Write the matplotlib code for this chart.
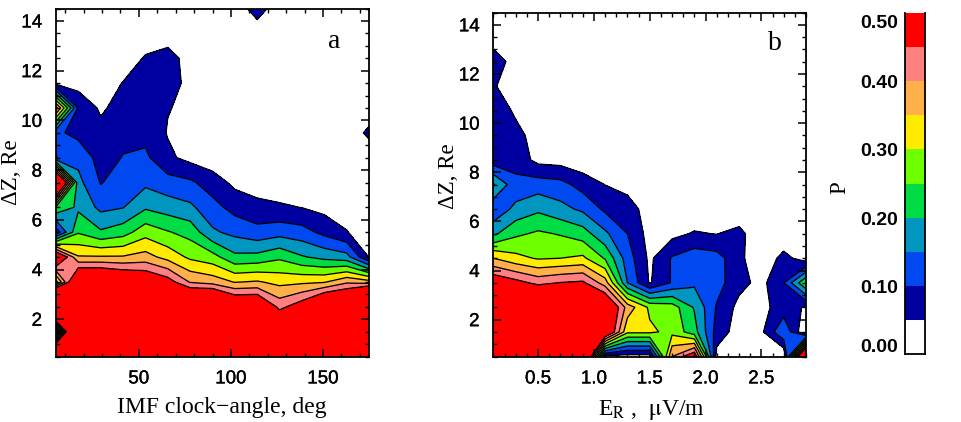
"""
Contour maps of P against IMF clock-angle and E_R, with a discrete colour bar.
"""

import numpy as np
import matplotlib
matplotlib.use("Agg")
import matplotlib.pyplot as plt
import matplotlib.patheffects as pe
from matplotlib.colors import BoundaryNorm, ListedColormap
from matplotlib.ticker import MultipleLocator
from matplotlib.transforms import ScaledTranslation

W, H = 962, 422

# grid of the two maps
dz = [0.5, 1.5, 2.5, 3.5, 4.5, 5.5, 6.5, 7.5, 8.5, 9.5, 10.5, 11.5, 12.5, 13.5, 14.5]
clock_angle = [5, 17.1, 29.3, 41.4, 53.6, 65.7, 77.9, 90, 102.1, 114.3, 126.4, 138.6, 150.7, 162.9, 175]
e_r = [0.1, 0.3, 0.5, 0.7, 0.9, 1.1, 1.3, 1.5, 1.7, 1.9, 2.1, 2.3, 2.5, 2.7, 2.9]

# P per clock-angle column, from dz = 0.5 up to dz = 14.5
p_clock = [
    [.90, .06, 1.0, .28, .55, .07, .24, .70, .098, .11, .42, .03, 0, 0, 0],
    [.90, .90, .90, .575, .355, .245, .19, .165, .135, .085, .09, .03, 0, 0, 0],
    [.90, .90, .90, .575, .355, .207, .137, .097, .08, .065, .042, .02, 0, 0, 0],
    [.90, .90, .90, .54, .355, .228, .148, .125, .102, .088, .07, .052, .02, 0, 0],
    [.90, .90, .90, .517, .37, .28, .193, .139, .11, .085, .075, .065, .055, .02, 0],
    [.90, .90, .90, .477, .332, .254, .176, .12, .06, .047, .052, .062, .06, .037, 0],
    [.90, .90, .63, .395, .29, .232, .16, .109, .035, .03, .041, .042, .04, .01, 0],
    [.90, .90, .65, .378, .27, .158, .118, .075, .02, 0, 0, 0, 0, 0, 0],
    [.90, .90, .545, .347, .212, .136, .082, .038, .01, 0, 0, 0, 0, 0, 0],
    [.90, .90, .545, .355, .216, .117, .065, .025, 0, 0, 0, 0, 0, 0, .09],
    [.90, .56, .434, .335, .24, .13, .057, .02, 0, 0, 0, 0, 0, 0, 0],
    [.90, .70, .486, .34, .205, .12, .049, .015, 0, 0, 0, 0, 0, 0, 0],
    [.90, .80, .59, .345, .185, .086, .035, 0, 0, 0, 0, 0, 0, 0, 0],
    [.90, .80, .61, .39, .169, .054, .01, 0, 0, 0, 0, 0, 0, 0, 0],
    [.90, .90, .87, .37, .048, 0, 0, 0, 0, .067, 0, 0, 0, 0, 0],
]

# P per E_R column, from dz = 0.5 up to dz = 14.5
p_er = [
    [.90, .90, .90, .50, .35, .19, .11, .205, .07, .08, .09, .055, .10, 0, 0],
    [.90, .90, .90, .47, .315, .24, .165, .115, .08, .068, .04, .02, .01, 0, 0],
    [.90, .90, .62, .435, .295, .258, .19, .125, .035, .025, 0, 0, 0, 0, 0],
    [.90, .90, .70, .452, .30, .246, .166, .117, .03, 0, 0, 0, 0, 0, 0],
    [.70, .90, .70, .46, .31, .224, .14, .08, .015, 0, 0, 0, 0, 0, 0],
    [.03, .55, .555, .375, .245, .16, .09, .049, .01, 0, 0, 0, 0, 0, 0],
    [.03, .31, .38, .15, .125, .10, .07, .035, 0, 0, 0, 0, 0, 0, 0],
    [.03, .31, .29, .045, .039, .03, .03, 0, 0, 0, 0, 0, 0, 0, 0],
    [.40, .285, .275, .105, .105, .035, 0, 0, 0, 0, 0, 0, 0, 0, 0],
    [.50, .22, .195, .14, .13, .055, .01, 0, 0, 0, 0, 0, 0, 0, 0],
    [.03, .08, .095, .12, .12, .048, .01, 0, 0, 0, 0, 0, 0, 0, 0],
    [0, .025, .035, .066, .065, .07, 0, 0, 0, 0, 0, 0, 0, 0, 0],
    [0, .04, .037, .035, .005, 0, 0, 0, 0, 0, 0, 0, 0, 0, 0],
    [0, .145, .07, .098, .07, 0, 0, 0, 0, 0, 0, 0, 0, 0, 0],
    [.70, 0, .045, .25, .02, 0, 0, 0, 0, 0, 0, 0, 0, 0, 0],
]

levels = [.05, .10, .15, .20, .25, .30, .35, .40, .45]
colors = ['#0000a0', '#0048f0', '#0096c0', '#00dc46', '#6eff00',
          '#ffeb00', '#ffb04a', '#ff8080', '#ff0000']
bar_edges = [0, .05, .10, .15, .20, .25, .30, .35, .40, .45, .50]
bar_ticks = [0, .10, .20, .30, .40, .50]
bar_labels = ['0.00', '0.10', '0.20', '0.30', '0.40', '0.50']

SANS = 'Liberation Sans'
SERIF = 'Liberation Serif'


def px_axes(fig, left, right, top, bottom):
    """Axes placed by pixel edges of the picture."""
    return fig.add_axes([left / W, 1 - bottom / H, (right - left) / W, (bottom - top) / H])


def draw_map(ax, x, values, xlim, x_major, x_minor):
    """Filled contours with black outlines, IDL style ticks on all sides."""
    z = np.array(values).T
    ax.contourf(x, dz, z, levels=levels + [10], colors=colors)
    ax.contour(x, dz, z, levels=levels, colors='black', linewidths=0.95)
    ax.set_xlim(xlim)
    ax.set_ylim(0.5, 14.5)
    ax.xaxis.set_major_locator(MultipleLocator(x_major))
    ax.xaxis.set_minor_locator(MultipleLocator(x_minor))
    ax.set_yticks([2, 4, 6, 8, 10, 12, 14])
    ax.yaxis.set_minor_locator(MultipleLocator(0.5))
    ax.tick_params(which='major', direction='in', length=6, width=1.1, top=True, right=True,
                   labelsize=13.5)
    ax.tick_params(axis='y', which='major', pad=10)
    ax.tick_params(axis='x', which='major', pad=10)
    ax.tick_params(which='minor', direction='in', length=3, width=1, top=True, right=True)
    for side in ax.spines.values():
        side.set_linewidth(1.3)
    for lab in ax.get_xticklabels() + ax.get_yticklabels():
        lab.set_family(SANS)
        lab.set_path_effects([pe.withStroke(linewidth=0.25, foreground='black')])


fig = plt.figure(figsize=(W / 100, H / 100), dpi=100)

ax_a = px_axes(fig, 56, 369, 8.5, 356.5)
draw_map(ax_a, clock_angle, p_clock, (5, 175), 50, 10)
ax_a.set_xlabel('IMF clock\u2212angle, deg', family=SERIF, fontsize=17)
ax_a.xaxis.set_label_coords(222 / W, 1 - 397 / H, transform=fig.transFigure)
ax_a.set_ylabel('\u0394Z, Re', family=SERIF, fontsize=16.5)
ax_a.yaxis.set_label_coords(22 / W, 1 - 172 / H, transform=fig.transFigure)
fig.text(334 / W, 1 - 41 / H, 'a', family=SERIF, fontsize=20, ha='center', va='center')

ax_b = px_axes(fig, 493.5, 806, 12.5, 356.5)
draw_map(ax_b, e_r, p_er, (0.1, 2.9), 0.5, 0.1)
ax_b.set_xlabel(r'E$_{\mathrm{R}}$ ,  $\mathrm{\mu}$V/m', family=SERIF, fontsize=17,
                math_fontfamily='stix')
ax_b.xaxis.set_label_coords(651 / W, 1 - 398 / H, transform=fig.transFigure)
ax_b.set_ylabel('\u0394Z, Re', family=SERIF, fontsize=16.5)
ax_b.yaxis.set_label_coords(459 / W, 1 - 176 / H, transform=fig.transFigure)
fig.text(775 / W, 1 - 43 / H, 'b', family=SERIF, fontsize=20, ha='center', va='center')

# colour bar
ax_c = px_axes(fig, 905, 925, 13, 354)
ax_c.pcolormesh([0, 1], bar_edges, np.array(bar_edges[:-1]).reshape(-1, 1),
                cmap=ListedColormap(['white'] + colors), norm=BoundaryNorm(bar_edges, 10))
ax_c.set_xlim(0, 1)
ax_c.set_ylim(0, 0.5)
ax_c.set_xticks([])
ax_c.set_yticks(bar_ticks, bar_labels)
ax_c.tick_params(axis='y', length=0, pad=5, labelsize=14)
label_shift = ScaledTranslation(0, -2.5 / 100, fig.dpi_scale_trans)
for lab, va in zip(ax_c.get_yticklabels(), ['bottom', 'center', 'center', 'center', 'center', 'top']):
    lab.set_family(SANS)
    lab.set_fontweight('bold')
    lab.set_va(va)
    lab.set_transform(lab.get_transform() + label_shift)
for name, side in ax_c.spines.items():
    side.set_linewidth(1.3 if name in ('left', 'right', 'bottom') else 0)
fig.text(840 / W, 1 - 188 / H, 'P', family=SERIF, fontsize=16.5, rotation=90, ha='center', va='center')

fig.savefig('out.png', dpi=100)
